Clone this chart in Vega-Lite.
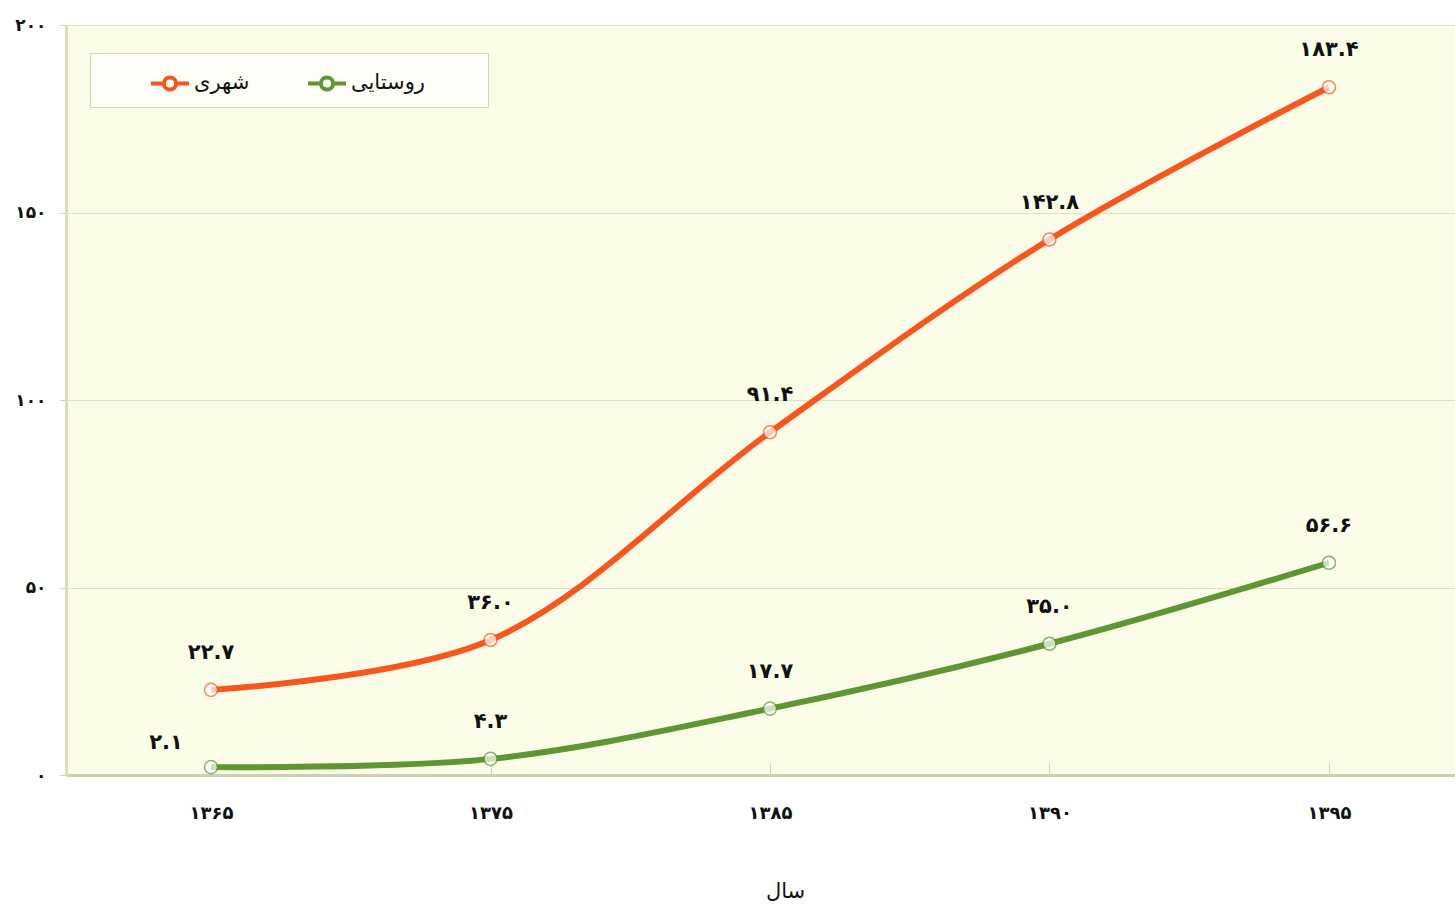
{
  "$schema": "https://vega.github.io/schema/vega-lite/v6.json",
  "width": 1389,
  "height": 750,
  "autosize": {"type": "none"},
  "padding": {"left": 66, "top": 25, "right": 0, "bottom": 135},
  "background": "white",
  "config": {
    "view": {"fill": "#fbfde9", "stroke": null},
    "font": "DejaVu Sans"
  },
  "data": {
    "values": [
      {"year": "۱۳۶۵", "type": "شهری", "value": 22.7, "label": "۲۲.۷"},
      {"year": "۱۳۷۵", "type": "شهری", "value": 36.0, "label": "۳۶.۰"},
      {"year": "۱۳۸۵", "type": "شهری", "value": 91.4, "label": "۹۱.۴"},
      {"year": "۱۳۹۰", "type": "شهری", "value": 142.8, "label": "۱۴۲.۸"},
      {"year": "۱۳۹۵", "type": "شهری", "value": 183.4, "label": "۱۸۳.۴"},
      {"year": "۱۳۶۵", "type": "روستایی", "value": 2.1, "label": "۲.۱"},
      {"year": "۱۳۷۵", "type": "روستایی", "value": 4.3, "label": "۴.۳"},
      {"year": "۱۳۸۵", "type": "روستایی", "value": 17.7, "label": "۱۷.۷"},
      {"year": "۱۳۹۰", "type": "روستایی", "value": 35.0, "label": "۳۵.۰"},
      {"year": "۱۳۹۵", "type": "روستایی", "value": 56.6, "label": "۵۶.۶"}
    ]
  },
  "encoding": {
    "x": {
      "field": "year",
      "type": "ordinal",
      "sort": null,
      "scale": {"type": "point", "padding": 0.485, "align": 0.535},
      "axis": {
        "title": "سال",
        "titleFont": "DejaVu Sans",
        "titleFontSize": 21,
        "titleFontWeight": "normal",
        "titleColor": "#111",
        "titlePadding": 58,
        "titleX": 719,
        "labelAngle": 0,
        "labelFont": "DejaVu Sans",
        "labelFontSize": 18,
        "labelFontWeight": "bold",
        "labelColor": "#111",
        "labelPadding": 41,
        "domainColor": "#c9d3b0",
        "domainWidth": 3,
        "tickColor": "#c9d3b0",
        "tickSize": -12,
        "grid": false
      }
    },
    "y": {
      "field": "value",
      "type": "quantitative",
      "scale": {"domain": [0, 200]},
      "axis": {
        "title": null,
        "values": [0, 50, 100, 150, 200],
        "labelExpr": "replace(replace(replace(replace(datum.label, regexp('0','g'), '۰'), regexp('1','g'), '۱'), regexp('2','g'), '۲'), regexp('5','g'), '۵')",
        "labelFont": "DejaVu Sans",
        "labelFontSize": 17,
        "labelFontWeight": "bold",
        "labelColor": "#111",
        "labelPadding": 14,
        "domainColor": "#d5e2b4",
        "domainWidth": 3,
        "tickColor": "#c9d3b0",
        "tickSize": 6,
        "grid": true,
        "gridColor": "#d9e5c0",
        "gridWidth": 1
      }
    }
  },
  "layer": [
    {
      "mark": {"type": "line", "interpolate": "catmull-rom", "strokeWidth": 6},
      "encoding": {
        "color": {
          "field": "type",
          "type": "nominal",
          "scale": {"domain": ["شهری", "روستایی"], "range": ["#f8561d", "#5e9631"]},
          "legend": {
            "title": " ",
            "titleOrient": "right",
            "titlePadding": 54,
            "orient": "none",
            "legendX": 24,
            "legendY": 28,
            "direction": "horizontal",
            "symbolType": "M-1,0H-0.32M0.32,0H1M-0.32,0A0.32,0.32,0,1,1,0.32,0A0.32,0.32,0,1,1,-0.32,0Z",
            "symbolSize": 1444,
            "symbolStrokeWidth": 4,
            "symbolFillColor": "white",
            "labelFont": "DejaVu Sans",
            "labelFontSize": 21,
            "labelColor": "#111",
            "labelOffset": 3,
            "columnPadding": 6,
            "symbolOffset": 50,
            "padding": 9,
            "fillColor": "#fdfef7",
            "strokeColor": "#cbdaa8"
          }
        }
      }
    },
    {
      "mark": {"type": "point", "filled": true, "fill": "white", "size": 170, "strokeWidth": 1.5},
      "encoding": {
        "stroke": {
          "field": "type",
          "type": "nominal",
          "scale": {"domain": ["شهری", "روستایی"], "range": ["#f8561d", "#5e9631"]},
          "legend": null
        }
      }
    },
    {
      "transform": [{"filter": "datum.value != 2.1"}],
      "mark": {"type": "text", "dy": -37, "font": "DejaVu Sans", "fontSize": 21, "fontWeight": "bold", "color": "#111"},
      "encoding": {"text": {"field": "label"}}
    },
    {
      "transform": [{"filter": "datum.value == 2.1"}],
      "mark": {"type": "text", "dx": -45, "dy": -24, "font": "DejaVu Sans", "fontSize": 21, "fontWeight": "bold", "color": "#111"},
      "encoding": {"text": {"field": "label"}}
    }
  ]
}
